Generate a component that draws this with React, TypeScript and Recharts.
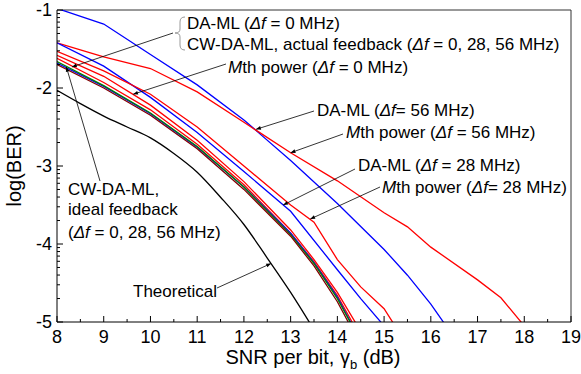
import React from "react";
import { LineChart, Line, XAxis, YAxis, ReferenceLine } from "recharts";

// SNR (dB) vs log10(BER)
const daml56 = [
  { x: 8, y: -0.98 }, { x: 9, y: -1.18 }, { x: 10, y: -1.57 }, { x: 11, y: -1.96 },
  { x: 12, y: -2.41 }, { x: 13, y: -2.93 }, { x: 14, y: -3.48 }, { x: 15, y: -4.07 },
  { x: 15.5, y: -4.4 }, { x: 16, y: -4.77 }, { x: 16.5, y: -5.2 },
];
const mth56 = [
  { x: 8, y: -1.42 }, { x: 8.5, y: -1.51 }, { x: 9, y: -1.6 }, { x: 10, y: -1.75 },
  { x: 11, y: -2.05 }, { x: 12, y: -2.44 }, { x: 13, y: -2.83 }, { x: 14, y: -3.19 },
  { x: 15, y: -3.6 }, { x: 15.5, y: -3.78 }, { x: 16, y: -4.04 }, { x: 17, y: -4.46 },
  { x: 17.5, y: -4.69 }, { x: 18, y: -5.05 },
];
const daml28 = [
  { x: 8, y: -1.42 }, { x: 9, y: -1.72 }, { x: 10, y: -2.12 }, { x: 11, y: -2.57 },
  { x: 12, y: -3.07 }, { x: 13, y: -3.58 }, { x: 14, y: -4.33 }, { x: 14.5, y: -4.7 },
  { x: 15, y: -5.05 },
];
const mth28 = [
  { x: 8, y: -1.53 }, { x: 9, y: -1.78 }, { x: 10, y: -2.08 }, { x: 11, y: -2.5 },
  { x: 12, y: -3.0 }, { x: 13, y: -3.5 }, { x: 13.5, y: -3.72 }, { x: 14, y: -4.2 },
  { x: 14.5, y: -4.55 }, { x: 15, y: -4.83 }, { x: 15.5, y: -5.3 },
];
const mth0 = [
  { x: 8, y: -1.58 }, { x: 9, y: -1.85 }, { x: 10, y: -2.22 }, { x: 11, y: -2.67 },
  { x: 12, y: -3.2 }, { x: 13, y: -3.82 }, { x: 13.5, y: -4.2 }, { x: 14, y: -4.62 },
  { x: 14.5, y: -5.12 },
];
const cwActual56 = [
  { x: 8, y: -1.62 }, { x: 9, y: -1.93 }, { x: 10, y: -2.28 }, { x: 11, y: -2.72 },
  { x: 12, y: -3.24 }, { x: 13, y: -3.86 }, { x: 13.5, y: -4.23 }, { x: 14, y: -4.66 },
  { x: 14.5, y: -5.2 },
];
const cwActual = [
  { x: 8, y: -1.66 }, { x: 9, y: -1.97 }, { x: 10, y: -2.32 }, { x: 11, y: -2.75 },
  { x: 12, y: -3.27 }, { x: 13, y: -3.88 }, { x: 13.5, y: -4.25 }, { x: 14, y: -4.7 },
  { x: 14.5, y: -5.25 },
];
const daml0 = [
  { x: 8, y: -1.68 }, { x: 9, y: -1.98 }, { x: 10, y: -2.33 }, { x: 11, y: -2.76 },
  { x: 12, y: -3.27 }, { x: 13, y: -3.86 }, { x: 13.5, y: -4.24 }, { x: 14, y: -4.68 },
  { x: 14.5, y: -5.25 },
];
const cwIdeal = [
  { x: 8, y: -1.7 }, { x: 9, y: -2.0 }, { x: 10, y: -2.35 }, { x: 11, y: -2.78 },
  { x: 12, y: -3.3 }, { x: 13, y: -3.9 }, { x: 13.5, y: -4.28 }, { x: 14, y: -4.74 },
  { x: 14.5, y: -5.3 },
];
const theoretical = [
  { x: 8, y: -2.03 }, { x: 8.5, y: -2.2 }, { x: 9, y: -2.36 }, { x: 9.5, y: -2.5 },
  { x: 10, y: -2.64 }, { x: 10.5, y: -2.84 }, { x: 11, y: -3.08 }, { x: 11.5, y: -3.4 },
  { x: 12, y: -3.75 }, { x: 12.5, y: -4.18 }, { x: 13, y: -4.62 }, { x: 13.5, y: -5.1 },
];

const xTicks: number[] = [];
for (let v = 8; v <= 19; v += 0.5) xTicks.push(v);
const yTicks: number[] = [-1];
for (let n = -5; n < -1; n++) {
  yTicks.push(n);
  for (let k = 2; k <= 9; k++) yTicks.push(n + Math.log10(k));
}

const W = 581;
const H = 374;
const PLOT = { left: 57, right: 571, top: 10, bottom: 322 };
const FONT = "'Liberation Sans', Arial, sans-serif";

const toPx = (x: number, y: number) => ({
  x: PLOT.left + ((x - 8) / 11) * (PLOT.right - PLOT.left),
  y: PLOT.top + ((-1 - y) / 4) * (PLOT.bottom - PLOT.top),
});

const XTick = (props: any) => {
  const { x, y, payload } = props;
  const major = Number.isInteger(payload.value);
  return (
    <g>
      <line x1={x} x2={x} y1={y} y2={y - (major ? 6 : 3)} stroke="#000" />
      {major && (
        <text x={x} y={y + 21} textAnchor="middle" fontSize={18} fontFamily={FONT} fill="#000">
          {payload.value}
        </text>
      )}
    </g>
  );
};

const YTick = (props: any) => {
  const { x, y, payload } = props;
  const major = Number.isInteger(Math.round(payload.value * 1000) / 1000);
  return (
    <g>
      <line x1={x} x2={x + (major ? 6 : 3)} y1={y} y2={y} stroke="#000" />
      {major && (
        <text x={x - 5} y={y + 6} textAnchor="end" fontSize={18} fontFamily={FONT} fill="#000">
          {payload.value}
        </text>
      )}
    </g>
  );
};

const Df = () => (
  <>
    <tspan fontStyle="italic">Δf</tspan>
  </>
);

const arrows = [
  { from: [173, 33], to: [8.32, -1.73] },
  { from: [226, 64], to: [9.63, -2.08] },
  { from: [314, 111], to: [12.26, -2.53] },
  { from: [343, 134], to: [13.0, -2.83] },
  { from: [355, 169], to: [12.84, -3.5] },
  { from: [380, 187], to: [13.42, -3.68] },
  { from: [100, 181], to: [8.2, -1.73] },
  { from: [217, 288], to: [12.58, -4.25] },
];

const Annotations = () => (
  <svg width={W} height={H} style={{ position: "absolute", left: 0, top: 0, pointerEvents: "none" }}>
    <defs>
      <marker id="ah" viewBox="0 0 10 10" refX="10" refY="5" markerWidth="8" markerHeight="6" orient="auto">
        <path d="M0,1 L10,5 L0,9 z" fill="#000" />
      </marker>
    </defs>
    {arrows.map((a, i) => {
      const t = toPx(a.to[0], a.to[1]);
      return (
        <line key={i} x1={a.from[0]} y1={a.from[1]} x2={t.x} y2={t.y} stroke="#000" strokeWidth={0.8} markerEnd="url(#ah)" />
      );
    })}
    <path d="M185,17 Q180,17 180,22 L180,29 Q180,33 175,33 Q180,33 180,37 L180,45 Q180,50 185,50" fill="none" stroke="#999" strokeWidth={1} />
    <g fontFamily={FONT} fontSize={17} fill="#000">
      <text x={187} y={29}>DA-ML (<Df /> = 0 MHz)</text>
      <text x={187} y={50}>CW-DA-ML, actual feedback (<Df /> = 0, 28, 56 MHz)</text>
      <text x={228} y={73}><tspan fontStyle="italic">M</tspan>th power (<Df /> = 0 MHz)</text>
      <text x={317} y={116}>DA-ML (<Df />= 56 MHz)</text>
      <text x={346} y={138}><tspan fontStyle="italic">M</tspan>th power (<Df /> = 56 MHz)</text>
      <text x={358} y={171}>DA-ML (<Df /> = 28 MHz)</text>
      <text x={382} y={193}><tspan fontStyle="italic">M</tspan>th power (<Df />= 28 MHz)</text>
      <text x={68} y={195}>CW-DA-ML,</text>
      <text x={68} y={215}>ideal feedback</text>
      <text x={68} y={238}>(<Df /> = 0, 28, 56 MHz)</text>
      <text x={133} y={297}>Theoretical</text>
    </g>
  </svg>
);

const series = [
  { data: theoretical, color: "#000000" },
  { data: daml56, color: "#0000ff" },
  { data: mth56, color: "#ff0000" },
  { data: daml28, color: "#0000ff" },
  { data: mth28, color: "#ff0000" },
  { data: mth0, color: "#ff0000" },
  { data: cwActual56, color: "#ff0000" },
  { data: daml0, color: "#0000ff" },
  { data: cwActual, color: "#008000" },
  { data: cwIdeal, color: "#800000" },
];

export default function App() {
  return (
    <div style={{ position: "absolute", left: 0, top: 0, width: W, height: H, background: "#fff" }}>
      <LineChart width={W} height={H} margin={{ top: 10, right: 10, bottom: 0, left: 0 }}>
        <XAxis
          type="number"
          dataKey="x"
          domain={[8, 19]}
          ticks={xTicks}
          interval={0}
          allowDataOverflow
          height={52}
          tickSize={0}
          tickMargin={0}
          tick={<XTick />}
          stroke="#000"
        />
        <YAxis
          type="number"
          domain={[-5, -1]}
          ticks={yTicks}
          interval={0}
          allowDataOverflow
          width={57}
          tickSize={0}
          tickMargin={0}
          tick={<YTick />}
          stroke="#000"
        />
        <ReferenceLine y={-1} stroke="#333" />
        <ReferenceLine x={19} stroke="#333" />
        {series.map((s, i) => (
          <Line
            key={i}
            data={s.data}
            dataKey="y"
            type={s.data === theoretical ? "monotone" : "linear"}
            stroke={s.color}
            strokeWidth={1.3}
            dot={false}
            isAnimationActive={false}
          />
        ))}
      </LineChart>
      <svg width={W} height={H} style={{ position: "absolute", left: 0, top: 0, pointerEvents: "none" }}>
        <text x={313} y={364} textAnchor="middle" fontSize={20} fontFamily={FONT} fill="#000">
          SNR per bit, γ<tspan fontSize={13} dy={5}>b</tspan><tspan dy={-5}> (dB)</tspan>
        </text>
        <text x={21} y={166} textAnchor="middle" fontSize={20} fontFamily={FONT} fill="#000" transform="rotate(-90 21 166)">
          log(BER)
        </text>
      </svg>
      <Annotations />
    </div>
  );
}
